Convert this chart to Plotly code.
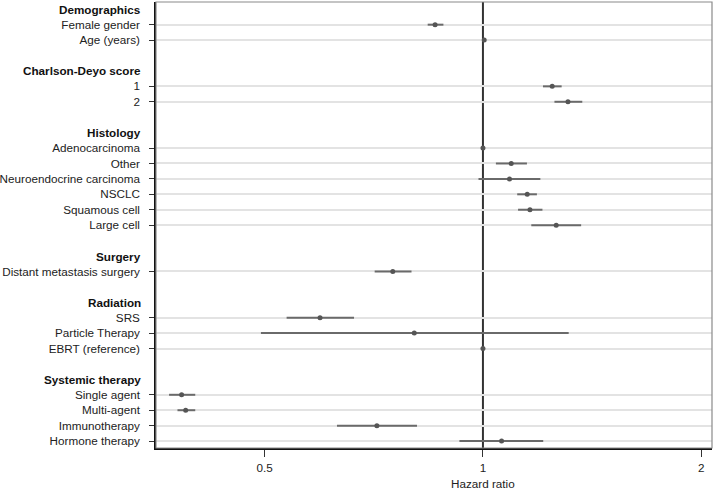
import math
import plotly.graph_objects as go

groups = ["Demographics", "Charlson-Deyo score", "Histology", "Surgery", "Radiation", "Systemic therapy"]
group_items = [
    ["Female gender", "Age (years)"],
    ["1", "2"],
    ["Adenocarcinoma", "Other", "Neuroendocrine carcinoma", "NSCLC", "Squamous cell", "Large cell"],
    ["Distant metastasis surgery"],
    ["SRS", "Particle Therapy", "EBRT (reference)"],
    ["Single agent", "Multi-agent", "Immunotherapy", "Hormone therapy"],
]
hr = [
    [0.859, 1.004],
    [1.246, 1.310],
    [1.000, 1.094, 1.088, 1.151, 1.161, 1.262],
    [0.751],
    [0.596, 0.804, 1.000],
    [0.384, 0.389, 0.714, 1.061],
]
ci_low = [
    [0.839, 1.001],
    [1.210, 1.255],
    [1.000, 1.042, 0.986, 1.115, 1.118, 1.166],
    [0.709],
    [0.536, 0.494, 1.000],
    [0.369, 0.379, 0.629, 0.928],
]
ci_high = [
    [0.882, 1.007],
    [1.284, 1.371],
    [1.000, 1.150, 1.200, 1.187, 1.208, 1.366],
    [0.797],
    [0.664, 1.313, 1.000],
    [0.401, 0.401, 0.811, 1.211],
]
x_ticks = [0.5, 1, 2]
x_title = "Hazard ratio"

FONT = "Liberation Sans, Arial, sans-serif"
FS = 11.7

# build row positions
ys, labels, xs, lo_err, hi_err = [], [], [], [], []
heading_rows = []
row = 0
for g, items, h, lo, hi in zip(groups, group_items, hr, ci_low, ci_high):
    heading_rows.append((g, row))
    row += 1
    for lab, v, l, u in zip(items, h, lo, hi):
        ys.append(row)
        labels.append(lab)
        xs.append(v)
        lo_err.append(v - l)
        hi_err.append(u - v)
        row += 1
    row += 1
last_row = row - 2

fig = go.Figure()
fig.add_trace(go.Scatter(
    x=xs, y=ys, mode="markers",
    marker=dict(size=5, color="#555555"),
    error_x=dict(type="data", symmetric=False, array=hi_err, arrayminus=lo_err,
                 width=0, thickness=2, color="#6a6a6a"),
    showlegend=False, hoverinfo="skip",
))

fig.add_shape(type="line", xref="x", yref="paper", x0=1, x1=1, y0=0, y1=1,
              line=dict(color="#333333", width=2), layer="between")
fig.add_shape(type="rect", xref="paper", yref="paper", x0=0, x1=1, y0=0, y1=1,
              line=dict(color="#8a8a8a", width=1.2), layer="above")

for g, r in heading_rows:
    fig.add_annotation(text="<b>" + g + "</b>", xref="paper", yref="y", x=0, y=r,
                       xanchor="right", yanchor="middle", xshift=-13, showarrow=False,
                       font=dict(size=FS, color="#111111", family=FONT))

fig.add_annotation(text=x_title, xref="x", yref="paper", x=0, y=0,
                   xanchor="center", yanchor="middle", yshift=-35, showarrow=False,
                   font=dict(size=FS, color="#222222", family=FONT))

fig.update_layout(
    width=713, height=489,
    margin=dict(l=156, r=1, t=2, b=41),
    paper_bgcolor="white", plot_bgcolor="white",
    font=dict(family=FONT, size=FS, color="#222222"),
    xaxis=dict(type="log", range=[math.log10(0.354), math.log10(2.07)],
               tickvals=x_ticks, ticktext=[str(t) for t in x_ticks],
               ticks="outside", ticklen=7, tickcolor="#333333", tickwidth=1.2,
               showgrid=False, zeroline=False, showline=True, linecolor="#111111", linewidth=1.5,
               automargin=False, tickfont=dict(size=FS, color="#222222"), ticklabelstandoff=1),
    yaxis=dict(range=[last_row + 0.45, -0.47], tickvals=ys, ticktext=labels,
               ticks="outside", ticklen=5, tickcolor="#333333", tickwidth=1.2,
               showgrid=True, gridcolor="#e3e3e3", gridwidth=1.5,
               zeroline=False, showline=True, linecolor="#111111", linewidth=1.5,
               automargin=False, tickfont=dict(size=FS, color="#222222"), ticklabelstandoff=7),
)

fig.write_html("out.html", config={"displayModeBar": False},
               post_script="document.body.style.margin='0';document.body.style.overflow='hidden';")
